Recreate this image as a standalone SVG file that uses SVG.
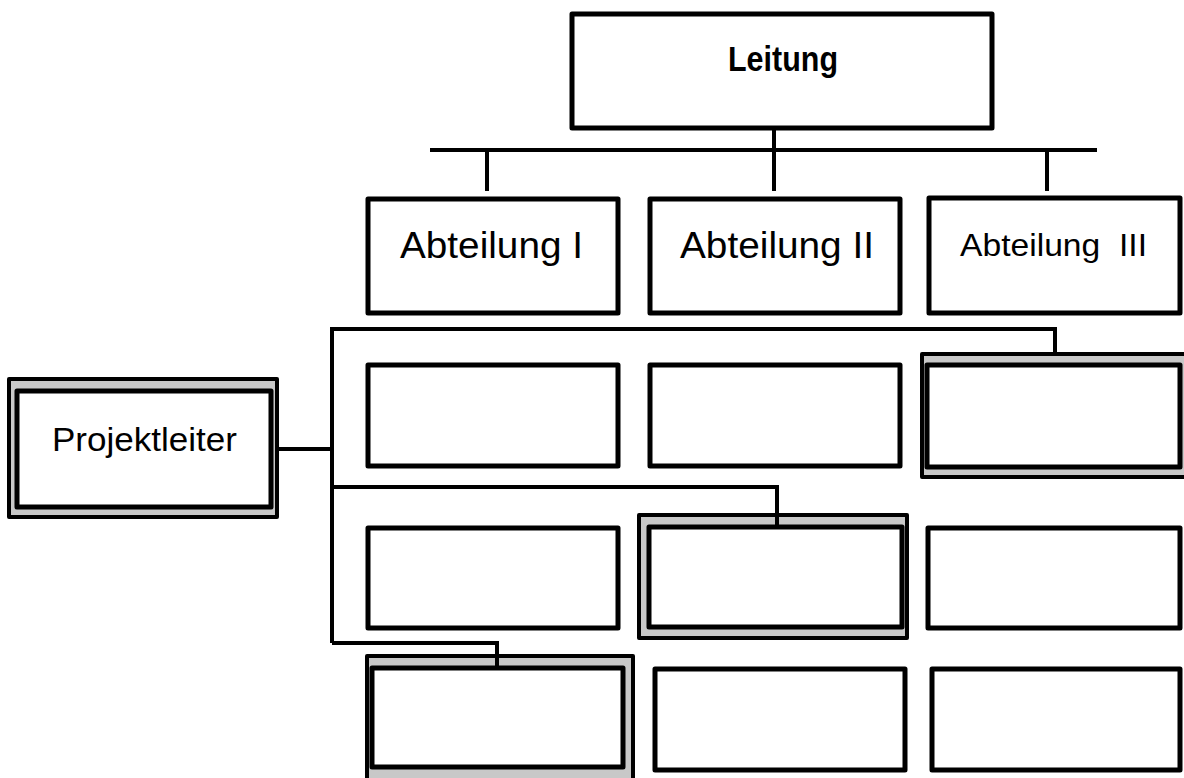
<svg xmlns="http://www.w3.org/2000/svg" width="1184" height="778" viewBox="0 0 1184 778">
<style>
.box{fill:#fff;stroke:#000;stroke-width:5;stroke-linejoin:round}
.outer{fill:#c8c8c8;stroke:#000;stroke-width:4;stroke-linejoin:round}
.inner{fill:#fff;stroke:#000;stroke-width:5;stroke-linejoin:round}
.ln{fill:none;stroke:#000;stroke-width:4;stroke-linejoin:miter}
.t{font-family:"Liberation Sans",Arial,sans-serif;fill:#000;text-anchor:start}
</style>
<rect width="1184" height="778" fill="#fff"/>
<g id="leitung">
<rect class="box" x="572" y="14" width="420" height="114"/>
<text class="t" x="728" y="71" font-size="35" font-weight="bold" textLength="110" lengthAdjust="spacingAndGlyphs">Leitung</text>
</g>
<g id="abteilung1">
<rect class="box" x="368" y="199" width="250" height="114"/>
<text class="t" x="400" y="258" font-size="36" textLength="183" lengthAdjust="spacingAndGlyphs">Abteilung I</text>
</g>
<g id="abteilung2">
<rect class="box" x="650" y="199" width="250" height="114"/>
<text class="t" x="680" y="258" font-size="36" textLength="194" lengthAdjust="spacingAndGlyphs">Abteilung II</text>
</g>
<g id="abteilung3">
<rect class="box" x="929" y="198" width="251" height="115"/>
<text class="t" x="960" y="256" font-size="32" textLength="187" lengthAdjust="spacingAndGlyphs" style="white-space:pre" xml:space="preserve">Abteilung  III</text>
</g>
<g id="projektleiter">
<rect class="outer" x="9" y="379" width="268" height="138"/>
<rect class="inner" x="17" y="391" width="254" height="116"/>
<text class="t" x="52" y="451" font-size="34" textLength="185" lengthAdjust="spacingAndGlyphs">Projektleiter</text>
</g>
<g id="r2c1"><rect class="box" x="368" y="365" width="250" height="101"/></g>
<g id="r2c2"><rect class="box" x="650" y="365" width="250" height="101"/></g>
<g id="r2c3">
<rect class="outer" x="922" y="354" width="270" height="123"/>
<rect class="inner" x="927" y="365" width="253" height="102"/>
</g>
<g id="r3c1"><rect class="box" x="368" y="528" width="250" height="100"/></g>
<g id="r3c2">
<rect class="outer" x="639" y="515" width="268" height="123"/>
<rect class="inner" x="649" y="527" width="253" height="100"/>
</g>
<g id="r3c3"><rect class="box" x="928" y="528" width="252" height="100"/></g>
<g id="r4c1">
<rect class="outer" x="367" y="656" width="266" height="130"/>
<rect class="inner" x="372" y="668" width="251" height="99"/>
</g>
<g id="r4c2"><rect class="box" x="655" y="669" width="250" height="101"/></g>
<g id="r4c3"><rect class="box" x="932" y="669" width="248" height="101"/></g>
<g id="connectors">
<path class="ln" d="M774 128V150"/>
<path class="ln" d="M430 150H1097"/>
<path class="ln" d="M487 150V191M774 150V191M1047 150V191"/>
<path class="ln" d="M277 449H332"/>
<path class="ln" d="M1055 354V329H332V643"/>
<path class="ln" d="M332 487H777V527"/>
<path class="ln" d="M332 643H497V668"/>
</g>
</svg>
